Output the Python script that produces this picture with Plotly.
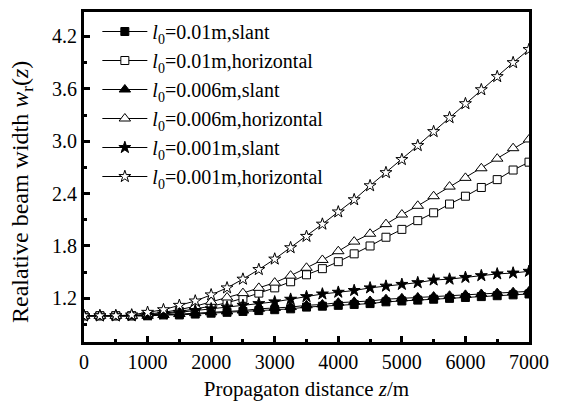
import plotly.graph_objects as go

z = list(range(0, 7001, 250))

slant_001 = [1.00, 1.00, 1.00, 1.00, 1.00, 1.01, 1.01, 1.02, 1.03, 1.04, 1.05, 1.06, 1.07, 1.08, 1.10,
             1.11, 1.12, 1.13, 1.14, 1.16, 1.17, 1.18, 1.19, 1.20, 1.21, 1.22, 1.23, 1.24, 1.25]
horiz_001 = [1.00, 1.00, 1.00, 1.00, 1.01, 1.03, 1.05, 1.08, 1.11, 1.15, 1.20, 1.26, 1.32, 1.39, 1.47,
             1.54, 1.62, 1.71, 1.80, 1.90, 1.99, 2.09, 2.18, 2.28, 2.37, 2.47, 2.56, 2.67, 2.76]
slant_0006 = [1.00, 1.00, 1.00, 1.00, 1.00, 1.01, 1.02, 1.03, 1.04, 1.05, 1.06, 1.08, 1.09, 1.10, 1.12,
              1.13, 1.15, 1.16, 1.17, 1.19, 1.20, 1.21, 1.22, 1.23, 1.24, 1.25, 1.26, 1.27, 1.28]
horiz_0006 = [1.00, 1.00, 1.00, 1.00, 1.02, 1.04, 1.07, 1.11, 1.16, 1.21, 1.26, 1.32, 1.38, 1.46, 1.55,
              1.64, 1.74, 1.85, 1.94, 2.05, 2.16, 2.26, 2.37, 2.48, 2.58, 2.69, 2.80, 2.92, 3.02]
slant_0001 = [1.00, 1.00, 1.00, 1.00, 1.01, 1.02, 1.04, 1.06, 1.08, 1.10, 1.12, 1.14, 1.16, 1.19, 1.22,
              1.25, 1.27, 1.29, 1.32, 1.34, 1.36, 1.38, 1.41, 1.42, 1.44, 1.46, 1.48, 1.49, 1.51]
horiz_0001 = [1.00, 1.00, 1.00, 1.01, 1.04, 1.07, 1.12, 1.17, 1.24, 1.32, 1.42, 1.53, 1.65, 1.78, 1.91,
              2.05, 2.19, 2.33, 2.49, 2.64, 2.79, 2.95, 3.11, 3.27, 3.43, 3.59, 3.74, 3.90, 4.05]

names = [
    "<i>l</i><sub>0</sub>=0.01m,slant",
    "<i>l</i><sub>0</sub>=0.01m,horizontal",
    "<i>l</i><sub>0</sub>=0.006m,slant",
    "<i>l</i><sub>0</sub>=0.006m,horizontal",
    "<i>l</i><sub>0</sub>=0.001m,slant",
    "<i>l</i><sub>0</sub>=0.001m,horizontal",
]
series = [slant_001, horiz_001, slant_0006, horiz_0006, slant_0001, horiz_0001]
symbols = ["square", "square", "triangle-up", "triangle-up", "star", "star"]
fills = ["black", "white", "black", "white", "black", "white"]
sizes = [8, 8, 10, 10, 9, 9]

x_title = "Propagaton distance <i>z</i>/m"
y_title = "Realative beam width <i>w</i><sub>r</sub>(<i>z</i>)"

FONT = "Liberation Serif, Times New Roman, serif"

fig = go.Figure()
for nm, ys, sym, fc, sz in zip(names, series, symbols, fills, sizes):
    fig.add_trace(go.Scatter(
        x=z, y=ys, name=nm, mode="lines+markers",
        line=dict(color="black", width=1),
        marker=dict(symbol=sym, size=sz, color=fc, line=dict(color="black", width=1)),
    ))

# page body has an 8px margin, so the figure is 8px smaller and offsets are compensated
fig.update_layout(
    width=560, height=397,
    margin=dict(l=76, r=39, t=4, b=63),
    paper_bgcolor="white", plot_bgcolor="white",
    font=dict(family=FONT, size=20, color="black"),
    showlegend=True,
    legend=dict(x=0.03, y=1.0, xanchor="left", yanchor="top",
                bgcolor="rgba(0,0,0,0)", borderwidth=0,
                font=dict(family=FONT, size=20, color="black"),
                tracegroupgap=0, itemwidth=45),
    annotations=[dict(
        text=y_title, textangle=-90, xref="paper", yref="paper",
        x=-0.139, y=0.455, xanchor="center", yanchor="middle",
        showarrow=False, font=dict(family=FONT, size=24, color="black"),
    )],
)
fig.update_xaxes(
    range=[0, 7000], tickvals=[0, 1000, 2000, 3000, 4000, 5000, 6000, 7000],
    ticks="inside", ticklen=6, tickwidth=3, tickcolor="black",
    minor=dict(ticks="inside", ticklen=3, tickwidth=3, dtick=500, tickcolor="black"),
    showline=True, linewidth=3, linecolor="black", mirror=True,
    showgrid=False, zeroline=False, automargin=False,
    title=dict(text=x_title, font=dict(size=21), standoff=10),
    tickfont=dict(size=20),
)
fig.update_yaxes(
    range=[0.7, 4.48], tickvals=[1.2, 1.8, 2.4, 3.0, 3.6, 4.2],
    ticktext=["1.2", "1.8", "2.4", "3.0", "3.6", "4.2"],
    ticks="inside", ticklen=6, tickwidth=3, tickcolor="black",
    minor=dict(ticks="inside", ticklen=3, tickwidth=3, tickvals=[0.9, 1.5, 2.1, 2.7, 3.3, 3.9], tickcolor="black"),
    showline=True, linewidth=3, linecolor="black", mirror=True,
    showgrid=False, zeroline=False, automargin=False,
    tickfont=dict(size=20),
)

fig.write_html("out.html")
